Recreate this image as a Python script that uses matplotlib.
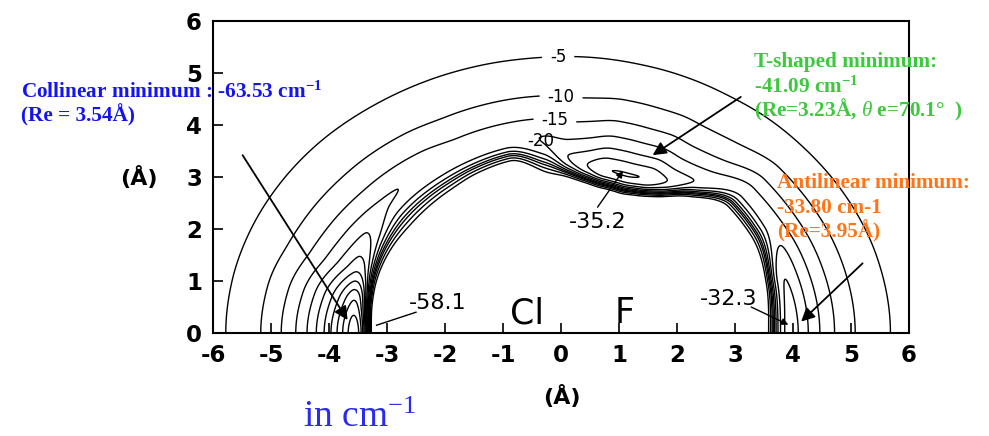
import numpy as np
import matplotlib
matplotlib.use("Agg")
import matplotlib.pyplot as plt

plt.rcParams["font.family"] = ["DejaVu Sans"]
plt.rcParams["axes.unicode_minus"] = False
plt.rcParams["mathtext.fontset"] = "custom"
plt.rcParams["mathtext.rm"] = "Liberation Serif"
plt.rcParams["mathtext.it"] = "Liberation Serif:italic"
plt.rcParams["mathtext.bf"] = "Liberation Serif:bold"

# Ar-ClF surface, angle measured from the F end of the axis (deg)
theta_nodes = [0, 15, 30, 40, 50, 58, 64, 70, 76, 82, 88, 95, 105, 115, 125, 140, 150, 160, 170, 180]
wall_r = [3.64, 3.72, 3.86, 3.86, 3.50, 3.15, 3.00, 2.93, 2.93, 2.98, 3.08, 3.25,
          3.52, 3.50, 3.47, 3.46, 3.44, 3.40, 3.34, 3.30]
well_r = [3.97, 4.00, 4.20, 4.20, 3.80, 3.45, 3.32, 3.25, 3.24, 3.27, 3.40, 3.75,
          3.85, 3.85, 3.90, 3.95, 3.85, 3.72, 3.62, 3.57]
well_depth = [32.3, 30.0, 22.5, 22.0, 24.0, 30.0, 34.8, 35.2, 34.8, 30.0, 25.0, 20.2,
              18.5, 18.5, 19.3, 20.5, 25.0, 33.0, 50.0, 58.1]
r_minus5 = [5.68, 5.64, 5.56, 5.50, 5.45, 5.40, 5.38, 5.36, 5.34, 5.33, 5.32, 5.31,
            5.33, 5.37, 5.43, 5.56, 5.64, 5.71, 5.76, 5.78]

levels = [-55, -50, -45, -40, -35, -30, -25, -20, 0, 8, 20]
labelled = [-15, -10, -5]
label_pos = [(-0.1, 4.12), (0.0, 4.51), (-0.05, 5.31)]


def pchip(xn, yn, xq):
    xn = np.asarray(xn, float)
    yn = np.asarray(yn, float)
    h = np.diff(xn)
    delta = np.diff(yn) / h
    d = np.zeros_like(yn)
    for i in range(1, len(xn) - 1):
        if delta[i - 1] * delta[i] > 0:
            w1 = 2 * h[i] + h[i - 1]
            w2 = h[i] + 2 * h[i - 1]
            d[i] = (w1 + w2) / (w1 / delta[i - 1] + w2 / delta[i])
    i = np.clip(np.searchsorted(xn, xq, side="right") - 1, 0, len(xn) - 2)
    t = (xq - xn[i]) / h[i]
    t2, t3 = t * t, t * t * t
    return ((2 * t3 - 3 * t2 + 1) * yn[i] + (t3 - 2 * t2 + t) * h[i] * d[i]
            + (-2 * t3 + 3 * t2) * yn[i + 1] + (t3 - t2) * h[i] * d[i + 1])


x = np.linspace(-6, 6, 1201)
y = np.linspace(0, 6, 601)
X, Y = np.meshgrid(x, y)
R = np.hypot(X, Y)
TH = np.degrees(np.arctan2(Y, X))

r0 = pchip(theta_nodes, wall_r, TH)
rm = pchip(theta_nodes, well_r, TH)
D = pchip(theta_nodes, well_depth, TH)
r5 = pchip(theta_nodes, r_minus5, TH)

eps = 0.08
k = np.log(D / 5.0) / (np.sqrt((r5 - rm) ** 2 + eps ** 2) - eps)
a = np.log(2.0) / (rm - r0)
dR = R - rm
outer = -D * np.exp(-k * (np.sqrt(dR ** 2 + eps ** 2) - eps))
inner = D * ((1 - np.exp(-a * np.minimum(dR, 0))) ** 2 - 1)
V = np.where(dR >= 0, outer, inner)

fig = plt.figure(figsize=(9.89, 4.36), dpi=100)
ax = fig.add_axes([0.2154, 0.2362, 0.7037, 0.7156])
ax.contour(X, Y, V, levels=levels, colors="k", linewidths=1.0, linestyles="solid")
cs = ax.contour(X, Y, V, levels=labelled, colors="k", linewidths=1.0, linestyles="solid")
for t in ax.clabel(cs, manual=label_pos, fmt="%d", fontsize=12,
                   inline=True, inline_spacing=8):
    t.set_rotation(0)

ax.set_xlim(-6, 6)
ax.set_ylim(0, 6)
ax.set_xticks(range(-6, 7))
ax.set_yticks(range(0, 7))
ax.tick_params(direction="in", length=7, width=1.2, labelsize=16.5, pad=8,
               top=False, right=False)
for lbl in ax.get_xticklabels() + ax.get_yticklabels():
    lbl.set_fontweight("bold")
for sp in ax.spines.values():
    sp.set_linewidth(1.5)

ax.text(-0.35, 3.7, "-20", fontsize=12, ha="center", va="center")
ax.text(-0.58, 0.05, "Cl", fontsize=25, ha="center", va="bottom")
ax.text(1.09, 0.05, "F", fontsize=25, ha="center", va="bottom")

# values at the three minima
ax.text(-2.62, 0.58, "-58.1", fontsize=16, ha="left", va="center")
ax.plot([-2.5, -3.18], [0.40, 0.15], color="k", lw=1.0)
ax.text(0.14, 2.13, "-35.2", fontsize=16, ha="left", va="center")
ax.annotate("", xy=(1.07, 3.12), xytext=(0.63, 2.42),
            arrowprops=dict(arrowstyle="-|>", color="k", lw=1.0,
                            mutation_scale=10, shrinkA=0, shrinkB=0))
ax.text(2.39, 0.65, "-32.3", fontsize=16, ha="left", va="center")
ax.annotate("", xy=(3.92, 0.16), xytext=(3.28, 0.5),
            arrowprops=dict(arrowstyle="-|>", color="k", lw=1.0,
                            mutation_scale=10, shrinkA=0, shrinkB=0))

# long arrows to the ab initio minima
big = dict(arrowstyle="-|>", color="k", lw=1.3, mutation_scale=20, shrinkA=0, shrinkB=0)
ax.annotate("", xy=(-3.68, 0.25), xytext=(-5.49, 3.42), arrowprops=big,
            annotation_clip=False)
ax.annotate("", xy=(1.58, 3.42), xytext=(3.10, 4.54), arrowprops=big,
            annotation_clip=False)
ax.annotate("", xy=(4.14, 0.22), xytext=(5.2, 1.34), arrowprops=big,
            annotation_clip=False)

fig.text(139 / 989, 1 - 177 / 436, "(Å)", fontsize=16, fontweight="bold",
         ha="center", va="center")
fig.text(562 / 989, 1 - 396 / 436, "(Å)", fontsize=16, fontweight="bold",
         ha="center", va="center")

serif = dict(family="Liberation Serif", fontweight="bold", fontsize=15.3, va="baseline")
blue = "#1414f0"
fig.text(21 / 989, 1 - 97.5 / 436, r"Collinear minimum : -63.53 cm$^{\mathbf{-1}}$",
         color=blue, **serif)
fig.text(21 / 989, 1 - 121 / 436, "(Re = 3.54Å)", color=blue, **serif)

green = "#3ec83e"
fig.text(754 / 989, 1 - 67 / 436, "T-shaped minimum:", color=green, **serif)
fig.text(754 / 989, 1 - 93 / 436, r"-41.09 cm$^{\mathbf{-1}}$", color=green, **serif)
fig.text(754 / 989, 1 - 116 / 436, r"(Re=3.23Å, $\theta$ e=70.1°  )", color=green, **serif)

orange = "#ff7417"
fig.text(777 / 989, 1 - 188 / 436, "Antilinear minimum:", color=orange, **serif)
fig.text(777 / 989, 1 - 213 / 436, "-33.80 cm-1", color=orange, **serif)
fig.text(777 / 989, 1 - 237 / 436, "(Re=3.95Å)", color=orange, **serif)

fig.text(303 / 989, 1 - 427 / 436, r"in cm$^{-1}$", fontsize=27, color="#2b2bf0",
         family="Liberation Serif", va="baseline")

fig.savefig("out.png", dpi=100)
